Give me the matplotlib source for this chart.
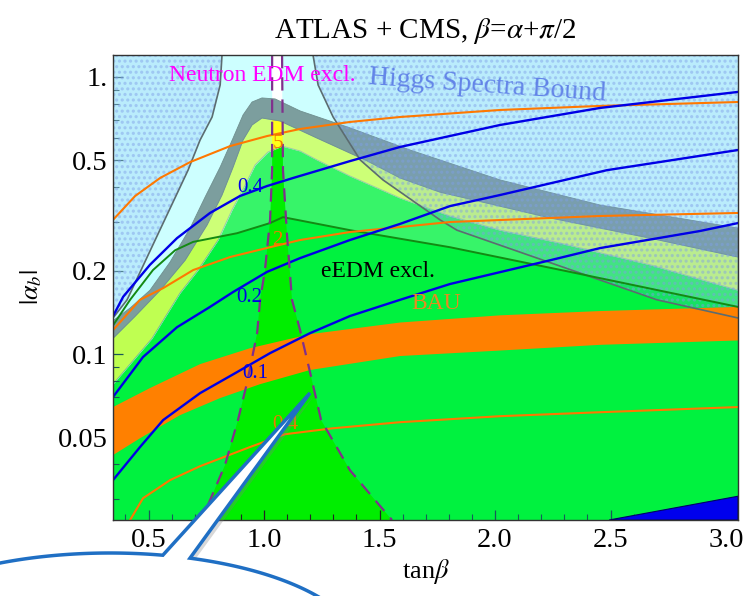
import numpy as np
import matplotlib.pyplot as plt
from matplotlib.path import Path
from matplotlib.patches import Polygon, PathPatch
from matplotlib.ticker import NullFormatter

plt.rcParams['font.family'] = ['Liberation Serif', 'DejaVu Serif']
plt.rcParams['mathtext.fontset'] = 'stix'
plt.rcParams['hatch.linewidth'] = 1.5

# plot range
tb_min, tb_max = 0.346, 3.052
ab_min, ab_max = 0.0252, 1.20

# Higgs spectra boundaries
higgs_left_tb = [0.346, 0.407, 0.537, 0.671, 0.723, 0.775, 0.810, 0.818]
higgs_left_ab = [0.135, 0.157, 0.267, 0.461, 0.592, 0.717, 0.936, 1.20]
higgs_right_tb = [1.212, 1.234, 1.299, 1.416, 1.515, 1.762, 1.835, 2.455, 2.701, 3.052]
higgs_right_ab = [1.20, 0.936, 0.717, 0.502, 0.425, 0.305, 0.280, 0.185, 0.157, 0.135]

# fit regions (outer grey band, yellow band, green)
outer_tb = [0.346, 0.420, 0.506, 0.593, 0.680, 0.745, 0.810, 0.866, 0.909, 0.948,
            0.991, 1.048, 1.156, 1.372, 1.632, 2.022, 2.455, 3.052]
outer_ab = [0.132, 0.1466, 0.170, 0.2148, 0.285, 0.369, 0.473, 0.602, 0.729, 0.812,
            0.840, 0.833, 0.754, 0.655, 0.545, 0.425, 0.345, 0.285]
mid_tb = [0.346, 0.442, 0.550, 0.658, 0.753, 0.818, 0.866, 0.909, 0.948, 0.991,
          1.069, 1.229, 1.446, 1.589, 1.762, 2.238, 2.671, 3.052]
mid_ab = [0.114, 0.137, 0.170, 0.218, 0.292, 0.375, 0.473, 0.592, 0.671, 0.711,
          0.694, 0.602, 0.498, 0.432, 0.384, 0.310, 0.262, 0.224]
inner_tb = [0.346, 0.398, 0.515, 0.636, 0.714, 0.801, 0.861, 0.918, 0.961, 1.017,
            1.078, 1.156, 1.229, 1.372, 1.589, 1.805, 2.022, 2.281, 2.671, 3.052]
inner_ab = [0.0779, 0.0876, 0.114, 0.166, 0.201, 0.258, 0.331, 0.407, 0.481, 0.536,
            0.563, 0.5405, 0.502, 0.439, 0.3657, 0.315, 0.280, 0.2516, 0.210, 0.170]

# electron EDM line
eedm_tb = [0.346, 0.420, 0.519, 0.615, 0.693, 0.883, 1.026, 1.082, 1.372, 1.805, 2.312, 3.052]
eedm_ab = [0.127, 0.157, 0.201, 0.237, 0.254, 0.273, 0.297, 0.312, 0.280, 0.243, 0.199, 0.148]

# neutron EDM allowed funnel
nedm_left_tb = [1.035, 1.035, 1.026, 1.004, 0.983, 0.970, 0.926, 0.887, 0.831, 0.753, 0.732]
nedm_left_ab = [1.20, 0.461, 0.305, 0.201, 0.157, 0.119, 0.0786, 0.0578, 0.0398, 0.0280, 0.0252]
nedm_right_tb = [1.078, 1.082, 1.100, 1.121, 1.156, 1.199, 1.247, 1.372, 1.481, 1.554]
nedm_right_ab = [1.20, 0.461, 0.2645, 0.157, 0.122, 0.0861, 0.0578, 0.0381, 0.0297, 0.0252]

# BAU band
bau_up_tb = [0.346, 0.506, 0.723, 0.939, 1.199, 1.589, 2.022, 2.455, 3.052]
bau_up_ab = [0.0644, 0.0754, 0.0920, 0.105, 0.118, 0.130, 0.138, 0.143, 0.148]
bau_lo_tb = [0.346, 0.463, 0.636, 0.810, 0.983, 1.199, 1.589, 2.022, 2.455, 3.052]
bau_lo_ab = [0.0432, 0.0497, 0.0602, 0.0694, 0.0779, 0.0876, 0.0984, 0.103, 0.108, 0.112]

# blue contours
blue_levels = ['0.4', '0.2', '0.1']
blue_tb = [
    [0.346, 0.390, 0.506, 0.623, 0.766, 0.896, 1.013, 1.126, 1.372, 1.589, 2.022, 2.455, 3.052],
    [0.346, 0.476, 0.623, 0.766, 0.866, 1.013, 1.156, 1.372, 1.589, 1.805, 2.022, 2.485, 3.052],
    [0.346, 0.463, 0.563, 0.723, 0.883, 1.026, 1.199, 1.372, 1.589, 1.805, 2.238, 2.455, 2.887, 3.052],
]
blue_ab = [
    [0.137, 0.161, 0.210, 0.262, 0.323, 0.372, 0.404, 0.432, 0.497, 0.559, 0.671, 0.773, 0.883],
    [0.070, 0.0976, 0.125, 0.148, 0.1675, 0.198, 0.222, 0.258, 0.295, 0.342, 0.375, 0.461, 0.545],
    [0.0351, 0.0462, 0.0578, 0.0723, 0.0861, 0.1008, 0.119, 0.1372, 0.157, 0.179, 0.218, 0.2413, 0.278, 0.297],
]
blue_label_pos = [(0.939, 0.400), (0.935, 0.160), (0.961, 0.0850)]

# orange contours
orange_levels = ['5', '2', '0.4']
orange_tb = [
    [0.346, 0.442, 0.550, 0.680, 0.853, 1.013, 1.156, 1.372, 1.589, 2.022, 2.455, 3.052],
    [0.346, 0.463, 0.563, 0.693, 0.853, 1.026, 1.156, 1.372, 1.805, 2.455, 3.052],
    [0.420, 0.476, 0.593, 0.723, 0.939, 1.091, 1.299, 1.589, 2.022, 2.455, 3.052],
]
orange_ab = [
    [0.305, 0.372, 0.432, 0.493, 0.563, 0.612, 0.649, 0.688, 0.717, 0.760, 0.786, 0.812],
    [0.122, 0.157, 0.173, 0.201, 0.224, 0.243, 0.258, 0.2757, 0.2996, 0.315, 0.323],
    [0.0252, 0.0302, 0.0351, 0.0394, 0.0462, 0.0514, 0.0540, 0.0568, 0.0597, 0.0617, 0.0644],
]
orange_label_pos = [(1.061, 0.575), (1.056, 0.256), (1.091, 0.0556)]

# blue corner region
corner_tb = [2.494, 3.052, 3.052]
corner_ab = [0.0252, 0.0307, 0.0252]


def band(tb_a, ab_a, tb_b, ab_b):
    return np.column_stack([list(tb_a) + list(tb_b)[::-1], list(ab_a) + list(ab_b)[::-1]])


fig = plt.figure(figsize=(7.44, 5.96), dpi=100)
ax = fig.add_axes([113 / 744, 1 - 520 / 596, 625 / 744, 465 / 596])
ax.set_yscale('log')
ax.set_xlim(tb_min, tb_max)
ax.set_ylim(ab_min, ab_max)
ax.set_facecolor('white')

# green and yellow fit regions
ax.fill_between(inner_tb, ab_min, inner_ab, color='#00ee00', lw=0, zorder=1)
ax.add_patch(Polygon(band(mid_tb, mid_ab, inner_tb, inner_ab), closed=True,
                     facecolor='#ffff18', edgecolor='#a8a860', lw=0.7, zorder=1.1))

# shading outside the neutron EDM funnel
left_out = [(tb_min, ab_max)] + list(zip(nedm_left_tb, nedm_left_ab)) + [(tb_min, ab_min)]
right_out = list(zip(nedm_right_tb, nedm_right_ab)) + [(tb_max, ab_min), (tb_max, ab_max)]
verts, codes = [], []
for poly in (left_out, right_out):
    verts += poly + [poly[0]]
    codes += [Path.MOVETO] + [Path.LINETO] * (len(poly) - 1) + [Path.CLOSEPOLY]
outside = PathPatch(Path(verts, codes), facecolor='#00ffff', alpha=0.25, lw=0, zorder=2)
ax.add_patch(outside)

# eEDM excluded side, lightened outside the funnel
eedm_poly = list(zip(eedm_tb, eedm_ab)) + [(tb_max, ab_max), (tb_min, ab_max)]
light = Polygon(eedm_poly, closed=True, facecolor='white', alpha=0.22, lw=0, zorder=2.1)
ax.add_patch(light)
clip = PathPatch(Path(verts, codes), transform=ax.transData, facecolor='none', edgecolor='none')
light.set_clip_path(clip)

# outer grey band
ax.add_patch(Polygon(band(outer_tb, outer_ab, mid_tb, mid_ab), closed=True,
                     facecolor='#7c9e9e', edgecolor='#6f8f8f', lw=0.6, zorder=2.5))

# Higgs spectra excluded regions (dotted)
hl_poly = list(zip(higgs_left_tb, higgs_left_ab)) + [(tb_min, ab_max)]
hr_poly = list(zip(higgs_right_tb, higgs_right_ab)) + [(tb_max, ab_max)]
for poly in (hl_poly, hr_poly):
    ax.add_patch(Polygon(poly, closed=True, facecolor='#6fa0f0', alpha=0.2, lw=0, zorder=3))
    ax.add_patch(Polygon(poly, closed=True, facecolor='none', edgecolor='#7f9ee8',
                         hatch='...', lw=0, alpha=0.45, zorder=3.05))

# BAU band
ax.add_patch(Polygon(band(bau_up_tb, bau_up_ab, bau_lo_tb, bau_lo_ab), closed=True,
                     facecolor='#ff8000', lw=0, zorder=3.5))

ax.fill(corner_tb, corner_ab, facecolor='#0000ee', edgecolor='#000066', lw=0.8, zorder=3.6)

# boundary lines
ax.plot(higgs_left_tb, higgs_left_ab, color='#5c6c70', lw=1.2, zorder=4)
ax.plot(higgs_right_tb, higgs_right_ab, color='#5c6c70', lw=1.2, zorder=4)
ax.plot(eedm_tb, eedm_ab, color='#138a13', lw=1.4, zorder=4.1)

for tbs, abs_ in zip(orange_tb, orange_ab):
    ax.plot(tbs, abs_, color='#ff7800', lw=1.5, zorder=4.2)
for tbs, abs_ in zip(blue_tb, blue_ab):
    ax.plot(tbs, abs_, color='#0000e6', lw=1.7, zorder=4.3)

ax.plot(nedm_left_tb, nedm_left_ab, color='#80308c', lw=1.6, dashes=(6, 4), zorder=4.4)
ax.plot(nedm_right_tb, nedm_right_ab, color='#80308c', lw=1.6, dashes=(6, 4), zorder=4.4)

# contour labels
for lab, (x, y) in zip(blue_levels, blue_label_pos):
    ax.text(x, y, lab, color='#0000e6', fontsize=15, ha='center', va='center', zorder=5)
for lab, (x, y) in zip(orange_levels, orange_label_pos):
    ax.text(x, y, lab, color='#f07800', fontsize=15, ha='center', va='center', zorder=5)

# region labels
ax.text(0.991, 1.015, 'Neutron EDM excl.', color='#ff00ff', fontsize=17,
        ha='center', va='center', zorder=6)
ax.text(1.965, 0.93, 'Higgs Spectra Bound', color='#5a7ae6', fontsize=20, rotation=-4,
        ha='center', va='center', alpha=0.9, zorder=6)
ax.text(1.494, 0.199, 'eEDM excl.', color='black', fontsize=17, ha='center', va='center', zorder=6)
ax.text(1.745, 0.1528, 'BAU', color='#e88a20', fontsize=17, ha='center', va='center', zorder=6)

# axes styling
ax.set_xticks([0.5, 1.0, 1.5, 2.0, 2.5, 3.0])
ax.set_xticklabels(['0.5', '1.0', '1.5', '2.0', '2.5', '3.0'])
ax.set_xticks([0.4, 0.6, 0.7, 0.8, 0.9, 1.1, 1.2, 1.3, 1.4, 1.6, 1.7, 1.8, 1.9,
               2.1, 2.2, 2.3, 2.4, 2.6, 2.7, 2.8, 2.9], minor=True)
ax.set_yticks([0.05, 0.1, 0.2, 0.5, 1.0])
ax.set_yticklabels(['0.05', '0.1', '0.2', '0.5', '1.'])
ax.set_yticks([0.03, 0.04, 0.06, 0.07, 0.08, 0.09, 0.3, 0.4, 0.6, 0.7, 0.8, 0.9], minor=True)
ax.yaxis.set_minor_formatter(NullFormatter())
ax.tick_params(which='major', direction='in', length=7, width=0.9, labelsize=20.5, color='#222222')
ax.tick_params(which='minor', direction='in', length=4, width=0.8, color='#222222')
ax.tick_params(axis='x', pad=6)
ax.tick_params(axis='y', pad=4)
for sp in ax.spines.values():
    sp.set_color('#333333')
    sp.set_linewidth(1.0)
    sp.set_zorder(8)

ax.set_title('ATLAS + CMS, $\\beta$=$\\alpha$+$\\pi$/2', fontsize=21, pad=12)
ax.set_xlabel('tan$\\beta$', fontsize=19, labelpad=3)
ax.set_ylabel('$|\\alpha_b|$', fontsize=19, labelpad=10)

# callout bubble below the axes
ell_cx, ell_cy, ell_a, ell_b = 110, 653, 252, 100
t = np.radians(np.linspace(-71.5, 282.1, 400))
bx = list(ell_cx + ell_a * np.cos(t)) + [310]
by = list(ell_cy + ell_b * np.sin(t)) + [393]
pts = np.column_stack([np.array(bx) / 744, 1 - np.array(by) / 596])
shadow = Polygon(pts + np.array([4 / 744, -3 / 596]), closed=True, transform=fig.transFigure,
                 facecolor='#808080', edgecolor='none', alpha=0.3, zorder=9, clip_on=False)
bubble = Polygon(pts, closed=True, transform=fig.transFigure, facecolor='white',
                 edgecolor='#1f6fc4', lw=2.5, joinstyle='miter', zorder=10, clip_on=False)
fig.add_artist(shadow)
fig.add_artist(bubble)

fig.savefig('out.png', dpi=100)
plt.close(fig)
